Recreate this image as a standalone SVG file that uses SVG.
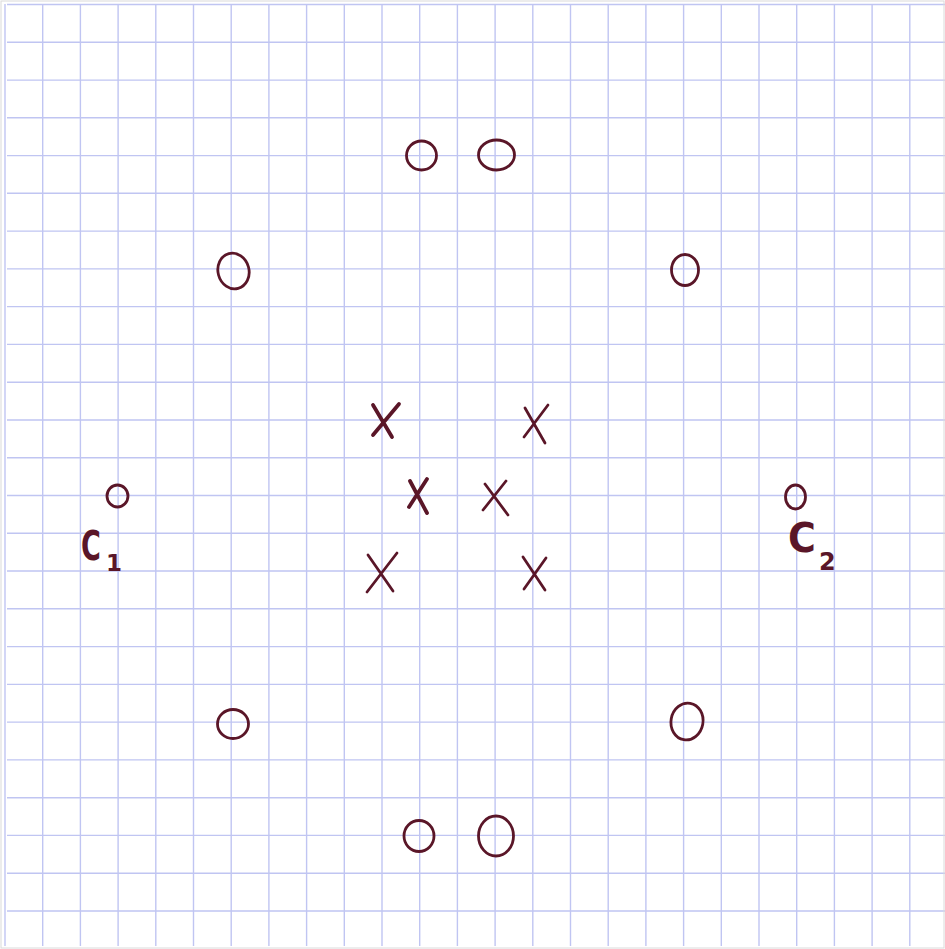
<svg xmlns="http://www.w3.org/2000/svg" width="945" height="949" viewBox="0 0 945 949">
<style>
.grid{fill:none;stroke:#c0c5f2;stroke-width:1.4}
.ink{fill:none;stroke:#5a1628;stroke-width:2.8;stroke-linecap:round;stroke-linejoin:round}
.xb{fill:none;stroke:#5a1628;stroke-width:3.8;stroke-linecap:round}
.xt{fill:none;stroke:#5a1628;stroke-width:2.8;stroke-linecap:round}
.lbl{font-family:"DejaVu Sans","Liberation Sans",sans-serif;fill:#5a1628;font-weight:bold}
</style>
<rect x="0" y="0" width="945" height="949" fill="#ffffff"/>
<g id="paper">
<path class="grid" d="M5 4V946M42.7 4V946M80.4 4V946M118.1 4V946M155.8 4V946M193.5 4V946M231.2 4V946M268.9 4V946M306.6 4V946M344.3 4V946M382 4V946M419.7 4V946M457.4 4V946M495.1 4V946M532.8 4V946M570.5 4V946M608.2 4V946M645.9 4V946M683.6 4V946M721.3 4V946M759 4V946M796.7 4V946M834.4 4V946M872.1 4V946M909.8 4V946"/>
<path class="grid" d="M7 4.5H945M7 42.3H945M7 80.1H945M7 117.8H945M7 155.6H945M7 193.3H945M7 231.1H945M7 268.9H945M7 306.6H945M7 344.4H945M7 382.2H945M7 420H945M7 457.7H945M7 495.5H945M7 533.3H945M7 571H945M7 608.8H945M7 646.6H945M7 684.4H945M7 722.1H945M7 759.9H945M7 797.7H945M7 835.4H945M7 873.2H945M7 911H945"/>
<rect x="1" y="1" width="943" height="947" fill="none" stroke="#dadada" stroke-width="1"/>
</g>
<g id="o-top-1"><ellipse class="ink" cx="421.5" cy="155.5" rx="15" ry="14.5"/></g>
<g id="o-top-2"><ellipse class="ink" cx="496.5" cy="155" rx="18" ry="15" stroke-width="3.2"/></g>
<g id="o-ul"><ellipse class="ink" cx="233.5" cy="271" rx="15.5" ry="18" transform="rotate(-15 233.5 271)"/></g>
<g id="o-ur"><ellipse class="ink" cx="685" cy="270" rx="13.5" ry="15.5"/></g>
<g id="o-c1"><ellipse class="ink" cx="117.5" cy="496" rx="10.5" ry="11"/></g>
<g id="o-c2"><ellipse class="ink" cx="795.5" cy="497" rx="10" ry="12"/></g>
<g id="o-ll"><ellipse class="ink" cx="233" cy="724" rx="15.5" ry="14.5" stroke-width="3.2"/></g>
<g id="o-lr"><ellipse class="ink" cx="687" cy="721.5" rx="16" ry="18.5" transform="rotate(10 687 721.5)"/></g>
<g id="o-bot-1"><ellipse class="ink" cx="419" cy="836" rx="15" ry="15.5"/></g>
<g id="o-bot-2"><ellipse class="ink" cx="496" cy="836" rx="17.5" ry="20"/></g>
<g id="x-ul"><path class="xb" d="M373 405L392 437M399 404L373 435"/></g>
<g id="x-ur"><path class="xt" d="M525 408L545 443M548 405L524 437"/></g>
<g id="x-ml"><path class="xb" d="M410 481L427 513M427 479L409 507"/></g>
<g id="x-mr"><path class="xt" d="M485 484L508 515M506 481L483 510"/></g>
<g id="x-ll"><path class="xt" d="M368 555L393 591M397 553L367 592"/></g>
<g id="x-lr"><path class="xt" d="M523 557L545 590M546 558L524 589"/></g>
<g id="label-c1"><text class="lbl" font-size="41" transform="translate(81 560) scale(0.66 1)">C</text><text class="lbl" x="106" y="571" font-size="23">1</text></g>
<g id="label-c2"><text class="lbl" font-size="40" transform="translate(788 552) scale(0.95 1)">C</text><text class="lbl" x="819" y="570" font-size="24">2</text></g>
</svg>
